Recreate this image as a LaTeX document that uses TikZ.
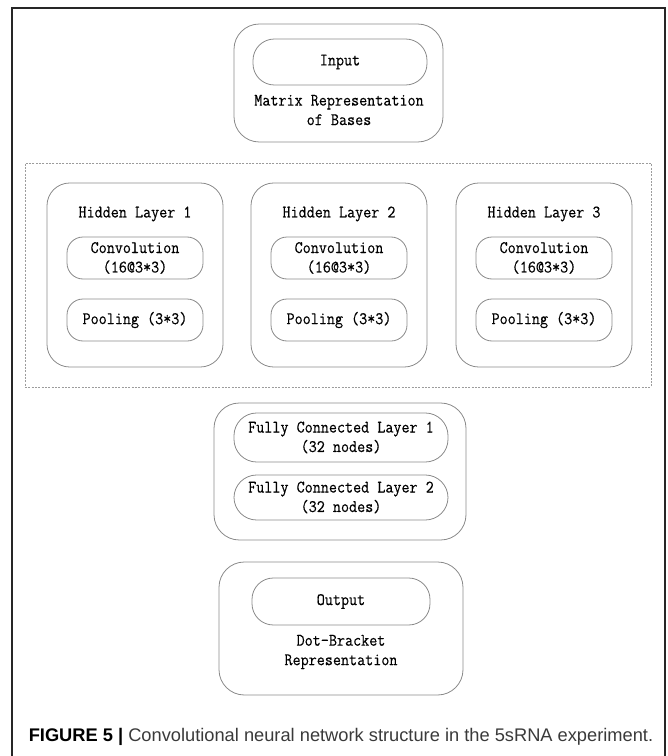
\documentclass[tikz,border=0pt]{standalone}
\usepackage{fontspec}
\setmainfont{Liberation Sans}
\newfontfamily\diagfont[FakeStretch=0.89,FakeBold=0.35]{Latin Modern Mono}
\usetikzlibrary{fit}
\definecolor{boxgray}{HTML}{8A8A8A}
\definecolor{capgray}{HTML}{3A3A3A}
\begin{document}
\begin{tikzpicture}[x=0.75pt,y=-0.75pt,
  frameline/.style={draw=black!85, line width=1.1pt},
  roundbox/.style={draw=boxgray, line width=0.6pt, rounded corners=#1, inner sep=0pt},
  dashbox/.style={draw=boxgray!85, line width=0.5pt, dash pattern=on 1.5pt off 1pt, inner sep=0pt},
  lbl/.style={font=\diagfont\fontsize{13.2}{14.6}\selectfont, align=center, inner sep=0pt, text=black}]
\useasboundingbox (0,0) rectangle (667,756);
% outer frame (open at the bottom)
\draw[frameline] (12,780) -- (12,8) -- (665,8) -- (665,780);

% Input block
\node[roundbox=19pt, fit={(234,24) (443,142)}] (inouter) {};
\node[roundbox=16pt, fit={(253,39) (427,85)}] (input) {};
\node[lbl] (inputtxt) at (input.center) {Input};
\node[lbl] (inlbl) at (339,110) {Matrix Representation\\of Bases};

% dashed hidden region
\node[dashbox, fit={(25,163) (651,387)}] (hidden) {};

% hidden layers
\foreach \i/\xa/\xb/\ca/\cb in {1/47/223/67/203, 2/251/427/271/407, 3/456/632/476/612}{
  \node[roundbox=17pt, fit={(\xa,183) (\xb,367)}] (h\i) {};
  \node[lbl] (ht\i) at ({(\xa+\xb)/2},214) {Hidden Layer \i};
  \node[roundbox=12pt, fit={(\ca,237) (\cb,279)}] (conv\i) {};
  \node[lbl] (convt\i) at (conv\i.center) {Convolution\\(16@3*3)};
  \node[roundbox=12pt, fit={(\ca,299) (\cb,341)}] (pool\i) {};
  \node[lbl] (poolt\i) at (pool\i.center) {Pooling (3*3)};
}

% fully connected block
\node[roundbox=19pt, fit={(214,403) (466,540)}] (fcouter) {};
\node[roundbox=17pt, fit={(234,413) (448,462)}] (fc1) {};
\node[lbl] (fc1t) at (fc1.center) {Fully Connected Layer 1\\(32 nodes)};
\node[roundbox=17pt, fit={(234,475) (448,520)}] (fc2) {};
\node[lbl] (fc2t) at (fc2.center) {Fully Connected Layer 2\\(32 nodes)};

% output block
\node[roundbox=19pt, fit={(219,562) (463,695)}] (outouter) {};
\node[roundbox=16pt, fit={(252,578) (430,625)}] (output) {};
\node[lbl] (outputtxt) at (output.center) {Output};
\node[lbl] (outlbl) at (341,652) {Dot-Bracket\\Representation};

% caption
\node[font=\fontsize{13.7}{16}\selectfont, inner sep=0pt, text=capgray] (cap) at (341,737)
  {\textcolor{black}{\textbf{FIGURE 5 |}} Convolutional neural network structure in the 5sRNA experiment.};
\end{tikzpicture}
\end{document}
